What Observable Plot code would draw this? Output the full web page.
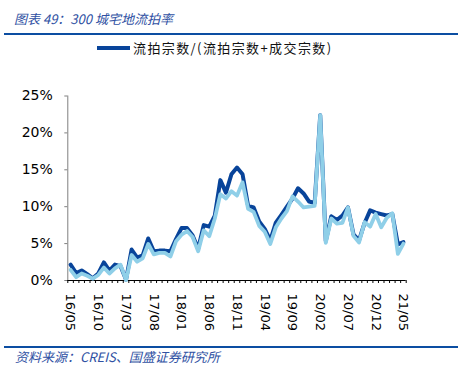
<!DOCTYPE html>
<html>
<head>
<meta charset="utf-8">
<script src="https://cdn.jsdelivr.net/npm/d3@7"></script>
<script src="https://cdn.jsdelivr.net/npm/@observablehq/plot@0.6"></script>
<style>
  html, body { margin: 0; padding: 0; background: #fff; }
  #wrap { position: relative; width: 463px; height: 378px; overflow: hidden; background: #fff; }
  #wrap svg { position: absolute; left: 0; top: 0; }
  .title { position: absolute; left: 14px; top: 10px; font: italic 13px "Noto Sans CJK SC", sans-serif; color: #2f51a3; line-height: 18px; white-space: nowrap; }
  .rule { position: absolute; left: 4px; width: 454px; height: 2px; background: #0c4ea2; }
  .legline { position: absolute; left: 97px; top: 46px; width: 33px; height: 4px; background: #08449a; }
  .legtext { position: absolute; left: 133px; top: 39px; font: 13px "Noto Sans CJK SC", sans-serif; letter-spacing: 1.4px; color: #111; line-height: 18px; white-space: nowrap; }
  .source { position: absolute; left: 15px; top: 348px; font: italic 13px "Noto Sans CJK SC", sans-serif; color: #2f51a3; line-height: 18px; white-space: nowrap; }
</style>
</head>
<body>
<div id="wrap">
  <div class="title">图表 49：300 城宅地流拍率</div>
  <div class="rule" style="top:33px"></div>
  <div class="legline"></div>
  <div class="legtext">流拍宗数/(流拍宗数+成交宗数)</div>
  <div class="rule" style="top:346px"></div>
  <div class="source">资料来源：CREIS、国盛证券研究所</div>
</div>
<script>
const months = [
  "16/05","16/06","16/07","16/08","16/09","16/10","16/11","16/12",
  "17/01","17/02","17/03","17/04","17/05","17/06","17/07","17/08","17/09","17/10","17/11","17/12",
  "18/01","18/02","18/03","18/04","18/05","18/06","18/07","18/08","18/09","18/10","18/11","18/12",
  "19/01","19/02","19/03","19/04","19/05","19/06","19/07","19/08","19/09","19/10","19/11","19/12",
  "20/01","20/02","20/03","20/04","20/05","20/06","20/07","20/08","20/09","20/10","20/11","20/12",
  "21/01","21/02","21/03","21/04","21/05"
];
// dark series: 流拍宗数/(流拍宗数+成交宗数), %
const darkSeries = [
  2.15,1.0,1.35,0.85,0.3,0.95,2.45,1.35,
  2.15,1.95,0.1,4.2,3.1,3.4,5.7,3.95,4.05,4.05,3.95,5.6,
  7.1,7.1,6.1,4.3,7.5,7.3,8.8,13.6,11.9,14.4,15.3,14.4,
  10.1,9.9,8.0,7.0,5.45,7.85,8.9,10.0,11.1,12.5,11.8,10.7,
  10.5,22.4,5.35,8.7,8.2,8.8,9.9,6.25,5.45,7.8,9.5,9.2,
  9.0,8.8,9.0,4.9,5.2
];
// light series, %
const lightSeries = [
  1.45,0.45,0.95,0.65,0.25,0.75,1.75,0.95,
  1.65,2.15,0.05,3.45,2.55,3.0,4.95,3.55,3.75,3.75,3.25,5.3,
  6.2,6.7,5.9,3.95,6.8,6.0,8.4,11.7,11.1,12.1,11.5,13.3,
  9.7,9.3,7.4,6.6,4.95,7.2,8.4,9.4,11.4,10.7,9.9,10.0,
  10.1,22.4,5.1,8.4,7.7,7.8,9.9,6.05,5.15,7.9,7.3,9.0,
  7.2,8.5,9.1,3.6,5.0
];
const tickLabels = ["16/05","16/10","17/03","17/08","18/01","18/06","18/11","19/04","19/09","20/02","20/07","20/12","21/05"];
const yTicks = [0, 5, 10, 15, 20, 25];

const rows = months.map((m, i) => ({i, month: m, dark: darkSeries[i], light: lightSeries[i]}));
const labelIdx = tickLabels.map(l => months.indexOf(l));
const boundaries = d3.range(months.length + 1).map(k => k - 0.5);

const chart = Plot.plot({
  width: 463,
  height: 378,
  marginLeft: 67.3,
  marginRight: 57.3,
  marginTop: 95.5,
  marginBottom: 98,
  style: {fontFamily: "DejaVu Sans, Verdana, sans-serif", fontSize: "14px", color: "#000", background: "transparent", overflow: "visible"},
  x: {type: "linear", domain: [-0.5, months.length - 0.5]},
  y: {domain: [0, 25]},
  marks: [
    Plot.axisY(yTicks, {tickSize: 3, tickPadding: 12, tickFormat: d => d + "%", fontSize: 14, stroke: "#7f7f7f", label: null}),
    Plot.axisX(boundaries, {tickSize: 3, tickFormat: () => "", stroke: "#000", label: null}),
    Plot.axisX(labelIdx, {tickSize: 0, tickPadding: 13, tickRotate: 90, textAnchor: "start", tickFormat: i => months[i], fontSize: 13, label: null}),
    Plot.ruleX([-0.5], {stroke: "#7f7f7f", strokeWidth: 1}),
    Plot.ruleY([0], {stroke: "#000", strokeWidth: 1}),
    Plot.lineY(rows, {x: "i", y: "dark", stroke: "#08449a", strokeWidth: 4, strokeLinejoin: "round", strokeLinecap: "round"}),
    Plot.lineY(rows, {x: "i", y: "light", stroke: "#8fcfe8", strokeWidth: 3.8, strokeLinejoin: "round", strokeLinecap: "round"})
  ]
});
document.getElementById("wrap").prepend(chart);
</script>
</body>
</html>
